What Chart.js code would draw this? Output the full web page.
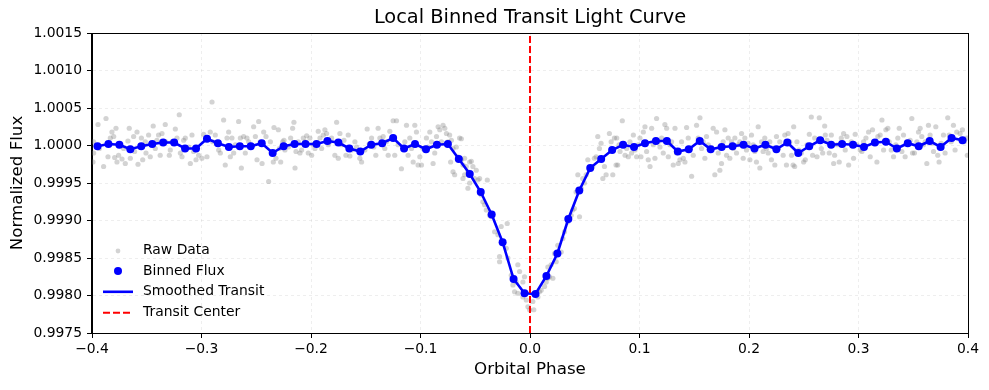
<!DOCTYPE html>
<html>
<head>
<meta charset="utf-8">
<title>Local Binned Transit Light Curve</title>
<script src="https://cdn.jsdelivr.net/npm/chart.js@4.4.1/dist/chart.umd.min.js"></script>
<style>
  html, body { margin: 0; padding: 0; background: #fff; }
  #wrap { width: 989px; height: 390px; }
</style>
</head>
<body>
<div id="wrap"><canvas id="lc" width="989" height="390"></canvas></div>
<script>
// --- data ---

// binned flux (bin centres in orbital phase)
const binPhase = [
  -0.395, -0.385, -0.375, -0.365, -0.355, -0.345, -0.335, -0.325, -0.315, -0.305,
  -0.295, -0.285, -0.275, -0.265, -0.255, -0.245, -0.235, -0.225, -0.215, -0.205,
  -0.195, -0.185, -0.175, -0.165, -0.155, -0.145, -0.135, -0.125, -0.115, -0.105,
  -0.095, -0.085, -0.075, -0.065, -0.055, -0.045, -0.035, -0.025, -0.015, -0.005,
  0.005, 0.015, 0.025, 0.035, 0.045, 0.055, 0.065, 0.075, 0.085, 0.095,
  0.105, 0.115, 0.125, 0.135, 0.145, 0.155, 0.165, 0.175, 0.185, 0.195,
  0.205, 0.215, 0.225, 0.235, 0.245, 0.255, 0.265, 0.275, 0.285, 0.295,
  0.305, 0.315, 0.325, 0.335, 0.345, 0.355, 0.365, 0.375, 0.385, 0.395
];
const binFlux = [
  0.99999, 1.00002, 1.00001, 0.99995, 0.99999, 1.00002, 1.00004, 1.00004, 0.99996, 0.99996,
  1.00009, 1.00003, 0.99998, 0.99999, 0.99999, 1.00003, 0.99990, 0.99999, 1.00002, 1.00002,
  1.00002, 1.00006, 1.00004, 0.99996, 0.99992, 1.00001, 1.00003, 1.00010, 0.99996, 1.00002,
  0.99995, 1.00001, 1.00002, 0.99982, 0.99962, 0.99938, 0.99908, 0.99871, 0.99822, 0.99803,
  0.99802, 0.99826, 0.99856, 0.99902, 0.99940, 0.99970, 0.99982, 0.99994, 1.00001, 0.99998,
  1.00003, 1.00006, 1.00006, 0.99992, 0.99995, 1.00006, 0.99995, 0.99998, 0.99999, 1.00001,
  0.99996, 1.00001, 0.99995, 1.00004, 0.99990, 0.99999, 1.00007, 1.00001, 1.00002, 1.00001,
  0.99998, 1.00004, 1.00005, 0.99996, 1.00003, 0.99999, 1.00006, 0.99998, 1.00010, 1.00007
];

// raw (unbinned) points
const rawPhase = [
  -0.3985, -0.3985, -0.3991, -0.3945, -0.3933, -0.3894, -0.3872, -0.3854, -0.3833, -0.3818,
  -0.3802, -0.3793, -0.3781, -0.3772, -0.3757, -0.3726, -0.3711, -0.3696, -0.3672, -0.3660,
  -0.3650, -0.3620, -0.3611, -0.3589, -0.3580, -0.3559, -0.3549, -0.3537, -0.3513, -0.3507,
  -0.3483, -0.3468, -0.3441, -0.3422, -0.3407, -0.3392, -0.3377, -0.3361, -0.3331, -0.3325,
  -0.3294, -0.3285, -0.3270, -0.3239, -0.3224, -0.3203, -0.3193, -0.3178, -0.3163, -0.3148,
  -0.3117, -0.3102, -0.3087, -0.3072, -0.3050, -0.3026, -0.2996, -0.2981, -0.2950, -0.2920,
  -0.2904, -0.2898, -0.2874, -0.2843, -0.2828, -0.2798, -0.2783, -0.2767, -0.2752, -0.2737,
  -0.2722, -0.2706, -0.2691, -0.2661, -0.2645, -0.2636, -0.2615, -0.2600, -0.2585, -0.2569,
  -0.2554, -0.2524, -0.2508, -0.2493, -0.2478, -0.2463, -0.2447, -0.2432, -0.2411, -0.2387,
  -0.2371,
  -0.2344, -0.2338, -0.2320, -0.2298, -0.2289, -0.2277, -0.2259, -0.2247, -0.2238, -0.2207,
  -0.2186, -0.2168, -0.2156, -0.2146, -0.2137, -0.2116, -0.2101, -0.2086, -0.2070, -0.2055,
  -0.2040, -0.2025, -0.2010, -0.1994, -0.1979, -0.1964, -0.1934, -0.1918, -0.1903, -0.1888,
  -0.1873, -0.1858, -0.1842, -0.1827, -0.1812, -0.1782, -0.1766, -0.1751, -0.1736, -0.1721,
  -0.1699, -0.1681, -0.1660, -0.1645, -0.1630, -0.1599, -0.1584, -0.1554, -0.1538, -0.1508,
  -0.1487, -0.1469, -0.1447, -0.1426, -0.1408, -0.1387, -0.1371, -0.1341, -0.1326, -0.1311,
  -0.1295, -0.1280, -0.1250, -0.1235, -0.1219, -0.1204, -0.1174, -0.1158, -0.1143, -0.1128,
  -0.1113, -0.1098, -0.1082, -0.1067, -0.1052, -0.1037, -0.1022, -0.1006, -0.0991, -0.0976,
  -0.0946, -0.0930, -0.0915, -0.0900, -0.0885, -0.0870, -0.0854, -0.0839, -0.0824, -0.0809,
  -0.0794, -0.0778, -0.0763, -0.0748,
  -0.0734, -0.0718, -0.0703, -0.0673, -0.0643, -0.0627, -0.0725, -0.0703, -0.0688, -0.0658,
  -0.0627, -0.0612, -0.0597, -0.0582, -0.0567, -0.0551, -0.0536, -0.0521, -0.0612, -0.0597,
  -0.0567, -0.0551, -0.0506, -0.0491, -0.0475, -0.0460, -0.0445, -0.0430, -0.0415, -0.0390,
  -0.0399, -0.0369, -0.0354, -0.0323, -0.0293, -0.0263, -0.0208, -0.0247, -0.0217, -0.0202,
  -0.0278, -0.0278, -0.0171, -0.0156, -0.0111, -0.0095, -0.0126, -0.0065, -0.0050, -0.0141,
  -0.0111, -0.0065, -0.0034, -0.0019, 0.0026, -0.0004, 0.0035, 0.0072, 0.0087, 0.0102,
  0.0133, 0.0148, 0.0163, 0.0178, 0.0209, 0.0163, 0.0193, 0.0224, 0.0254, 0.0285,
  0.0239, 0.0300, 0.0315, 0.0345, 0.0376, 0.0391, 0.0406, 0.0421, 0.0437, 0.0452,
  0.0467, 0.0482, 0.0497, 0.0513, 0.0528, 0.0543, 0.0573, 0.0588, 0.0604, 0.0619,
  0.0634, 0.0649, 0.0665, 0.0680, 0.0695, 0.0725, 0.0741, 0.0756, 0.0771, 0.0786,
  0.0792, 0.0801, 0.0813, 0.0822, 0.0843, 0.0868, 0.0883, 0.0898, 0.0913, 0.0928,
  0.0944, 0.0959, 0.0974, 0.0989, 0.1004, 0.1013, 0.1035, 0.1050, 0.1065, 0.1080,
  0.1096, 0.1111, 0.1126, 0.1141, 0.1156, 0.1172, 0.1187, 0.1202, 0.1217, 0.1232,
  0.1248, 0.1263, 0.1278, 0.1293, 0.1308, 0.1324, 0.1339, 0.1354, 0.1369, 0.1384,
  0.1400, 0.1415, 0.1430, 0.1445, 0.1460, 0.1476, 0.1491, 0.1521, 0.1536, 0.1552,
  0.1567, 0.1582, 0.1597, 0.1612, 0.1628, 0.1643, 0.1673, 0.1688, 0.1704, 0.1719,
  0.1734, 0.1749, 0.1764, 0.1780, 0.1795, 0.1810, 0.1825, 0.1840, 0.1856, 0.1871,
  0.1886, 0.1901, 0.1916, 0.1932, 0.1947, 0.1962, 0.1977, 0.1992, 0.2008, 0.2023,
  0.2038, 0.2053, 0.2068, 0.2084, 0.2099, 0.2114, 0.2129, 0.2144, 0.2160, 0.2175,
  0.2190, 0.2205, 0.2236, 0.2251, 0.2266, 0.2281, 0.2312, 0.2327, 0.2342, 0.2357,
  0.2372, 0.2388, 0.2403,
  0.2408, 0.2417, 0.2438, 0.2454, 0.2478, 0.2499, 0.2514, 0.2530, 0.2551, 0.2569,
  0.2581, 0.2600, 0.2621, 0.2642, 0.2660, 0.2673, 0.2691, 0.2697, 0.2712, 0.2733,
  0.2752, 0.2773, 0.2782, 0.2803, 0.2824, 0.2843, 0.2864, 0.2879, 0.2894, 0.2910,
  0.2934, 0.2955, 0.2970, 0.2985, 0.3016, 0.3031, 0.3046, 0.3068, 0.3092, 0.3107,
  0.3128, 0.3147, 0.3168, 0.3177, 0.3198, 0.3214, 0.3229, 0.3250, 0.3268, 0.3280,
  0.3299, 0.3320, 0.3341, 0.3359, 0.3372, 0.3396, 0.3411, 0.3426, 0.3441, 0.3472,
  0.3487, 0.3493, 0.3511, 0.3533, 0.3548, 0.3563, 0.3578, 0.3593, 0.3609, 0.3624,
  0.3639, 0.3654, 0.3669, 0.3685, 0.3706, 0.3724, 0.3736, 0.3755, 0.3776, 0.3791,
  0.3815, 0.3828, 0.3846, 0.3867, 0.3882, 0.3897, 0.3928, 0.3949, 0.3967, 0.3989,
  0.3994
];
const rawFlux = [
  1.00005, 0.99990, 0.99978, 1.00028, 0.99996, 0.99972, 1.00036, 0.99985, 1.00010, 1.00018,
  1.00012, 0.99984, 1.00023, 0.99978, 0.99987, 0.99982, 0.99996, 0.99976, 1.00006, 1.00023,
  0.99983, 1.00012, 0.99992, 1.00018, 0.99975, 0.99998, 1.00010, 0.99981, 1.00005, 0.99990,
  1.00014, 0.99985, 1.00026, 0.99996, 1.00007, 1.00014, 0.99987, 1.00016, 1.00028, 1.00005,
  0.99987, 0.99994, 1.00005, 1.00022, 1.00010, 1.00041, 0.99990, 0.99985, 1.00007, 1.00010,
  0.99998, 0.99976, 1.00014, 0.99992, 0.99981, 0.99987, 0.99983, 1.00015, 0.99985, 1.00018,
  1.00058, 1.00005, 1.00014, 0.99994, 0.99990, 1.00034, 0.99974, 1.00010, 1.00018, 0.99985,
  1.00010, 0.99990, 1.00001, 1.00032, 1.00010, 0.99970, 1.00012, 0.99990, 1.00010, 1.00005,
  1.00001, 1.00025, 1.00012, 0.99981, 1.00032, 1.00005, 0.99976, 1.00018, 1.00012, 0.99952,
  1.00005,
  0.99978, 1.00024, 0.99983, 1.00021, 0.99996, 0.99978, 1.00005, 1.00007, 0.99994, 0.99998,
  1.00010, 1.00023, 1.00031, 0.99970, 0.99992, 1.00005, 0.99990, 0.99994, 1.00010, 1.00005,
  1.00013, 0.99990, 1.00010, 0.99987, 1.00001, 0.99996, 1.00019, 1.00010, 0.99996, 1.00014,
  1.00021, 1.00016, 1.00001, 1.00005, 1.00010, 0.99987, 1.00031, 0.99983, 1.00016, 1.00001,
  1.00007, 0.99987, 1.00014, 0.99986, 0.99994, 1.00005, 0.99998, 0.99983, 0.99978, 0.99994,
  1.00022, 1.00002, 1.00010, 0.99998, 0.99987, 1.00023, 1.00010, 1.00012, 0.99996, 1.00005,
  0.99987, 1.00019, 1.00033, 0.99987, 1.00033, 1.00001, 0.99969, 0.99996, 1.00005, 1.00027,
  0.99987, 1.00010, 0.99996, 0.99978, 1.00027, 1.00018, 0.99974, 0.99985, 0.99974, 0.99996,
  1.00010, 0.99998, 1.00018, 1.00005, 0.99976, 0.99990, 1.00012, 1.00025, 1.00021, 1.00005,
  1.00027, 1.00023, 1.00016, 1.00005,
  1.00014, 1.00007, 0.99996, 0.99998, 1.00010, 1.00009, 0.99978, 0.99965, 0.99961, 0.99985,
  0.99981, 0.99974, 0.99983, 0.99972, 0.99965, 0.99978, 0.99979, 0.99972, 0.99956, 0.99961,
  0.99943, 0.99950, 0.99956, 0.99967, 0.99954, 0.99956, 0.99934, 0.99925, 0.99921, 0.99954,
  0.99914, 0.99907, 0.99905, 0.99885, 0.99881, 0.99892, 0.99896, 0.99872, 0.99863, 0.99850,
  0.99852, 0.99845, 0.99827, 0.99814, 0.99841, 0.99832, 0.99818, 0.99818, 0.99825, 0.99805,
  0.99803, 0.99798, 0.99794, 0.99785, 0.99792, 0.99781, 0.99781, 0.99798, 0.99805, 0.99807,
  0.99812, 0.99818, 0.99823, 0.99825, 0.99823, 0.99838, 0.99841, 0.99856, 0.99867, 0.99858,
  0.99845, 0.99876, 0.99885, 0.99898, 0.99907, 0.99914, 0.99916, 0.99938, 0.99961, 0.99905,
  0.99943, 0.99956, 0.99950, 0.99961, 0.99981, 0.99970, 0.99972, 0.99983, 0.99985, 1.00012,
  0.99996, 1.00003, 0.99956, 0.99972, 0.99961, 1.00016, 1.00005, 0.99961, 1.00010, 0.99974,
  1.00010, 0.99974, 1.00001, 0.99992, 1.00033, 0.99987, 0.99996, 0.99985, 1.00005, 0.99990,
  1.00014, 0.99994, 0.99985, 1.00001, 1.00010, 0.99985, 1.00018, 1.00025, 0.99992, 0.99981,
  0.99972, 1.00023, 1.00001, 0.99983, 1.00036, 1.00005, 0.99998, 1.00010, 0.99990, 1.00028,
  1.00023, 0.99985, 1.00001, 1.00005, 0.99974, 1.00023, 0.99990, 0.99976, 0.99981, 1.00005,
  0.99983, 0.99978, 1.00024, 1.00010, 0.99996, 0.99959, 0.99987, 1.00027, 1.00010, 1.00037,
  0.99996, 1.00005, 0.99983, 1.00012, 1.00001, 0.99996, 1.00023, 0.99961, 1.00018, 0.99990,
  0.99967, 0.99976, 1.00005, 1.00021, 0.99987, 1.00010, 0.99983, 1.00005, 0.99996, 1.00010,
  0.99990, 1.00001, 1.00005, 1.00016, 0.99983, 1.00010, 0.99994, 1.00003, 0.99981, 1.00014,
  1.00001, 0.99992, 0.99978, 1.00025, 0.99970, 1.00005, 0.99992, 1.00010, 0.99996, 0.99990,
  1.00005, 0.99981, 0.99974, 1.00012, 0.99996, 1.00005, 0.99987, 1.00014, 0.99974, 1.00016,
  1.00005, 0.99987, 0.99974,
  1.00025, 0.99972, 1.00005, 0.99994, 0.99990, 0.99978, 0.99981, 1.00001, 1.00015, 1.00038,
  0.99987, 1.00010, 0.99985, 1.00037, 0.99996, 0.99990, 1.00026, 1.00014, 1.00007, 0.99990,
  1.00014, 0.99976, 0.99987, 1.00001, 0.99978, 1.00010, 1.00016, 0.99994, 1.00012, 0.99974,
  1.00005, 0.99983, 1.00015, 1.00001, 0.99994, 0.99992, 1.00005, 1.00010, 1.00018, 0.99985,
  1.00021, 1.00005, 0.99978, 1.00012, 1.00014, 1.00034, 0.99994, 1.00021, 1.00023, 1.00005,
  0.99994, 0.99985, 1.00001, 1.00010, 1.00023, 0.99992, 1.00014, 0.99985, 1.00005, 1.00007,
  1.00036, 0.99990, 0.99990, 1.00005, 1.00018, 1.00023, 1.00012, 1.00001, 1.00005, 0.99976,
  1.00027, 1.00014, 1.00003, 0.99992, 1.00025, 0.99987, 0.99978, 1.00003, 1.00014, 0.99990,
  1.00037, 1.00014, 1.00005, 1.00027, 0.99994, 1.00018, 1.00016, 1.00021, 1.00005, 1.00010,
  0.99987
];

// axis ticks
const xTicks = [-0.4, -0.3, -0.2, -0.1, 0.0, 0.1, 0.2, 0.3, 0.4];
const yTicks = [0.9975, 0.9980, 0.9985, 0.9990, 0.9995, 1.0000, 1.0005, 1.0010, 1.0015];
const transitCenter = 0.0;

// colours
const BLUE = '#0000ff';
const RED = '#ff0000';
const RAW_GREY = 'rgba(128, 128, 128, 0.35)';
const GRID = 'rgba(176, 176, 176, 0.3)';
const FONT = "'DejaVu Sans', sans-serif";

const rawPoints = rawPhase.map((p, i) => ({ x: p, y: rawFlux[i] }));
const binPoints = binPhase.map((p, i) => ({ x: p, y: binFlux[i] }));
const centerLine = [
  { x: transitCenter, y: yTicks[0] },
  { x: transitCenter, y: yTicks[yTicks.length - 1] }
];

// frame, title, axis labels and legend (matplotlib-like)
const decor = {
  id: 'decor',
  afterDraw(chart) {
    const { ctx, chartArea: a } = chart;
    ctx.save();

    // full box around the axes
    ctx.strokeStyle = '#000';
    ctx.lineWidth = 1;
    ctx.strokeRect(Math.round(a.left) - 0.5, Math.round(a.top) + 0.5,
                   Math.round(a.right - a.left) + 1, Math.round(a.bottom - a.top));

    ctx.fillStyle = '#000';
    ctx.textAlign = 'center';
    ctx.textBaseline = 'middle';

    ctx.font = '19.4px ' + FONT;
    ctx.fillText('Local Binned Transit Light Curve', (a.left + a.right) / 2, 18);

    ctx.font = '16.7px ' + FONT;
    ctx.fillText('Orbital Phase', (a.left + a.right) / 2, 370);
    ctx.save();
    ctx.translate(18, (a.top + a.bottom) / 2);
    ctx.rotate(-Math.PI / 2);
    ctx.fillText('Normalized Flux', 0, 0);
    ctx.restore();

    // legend, lower left, no frame
    const items = [
      { label: 'Raw Data', kind: 'raw' },
      { label: 'Binned Flux', kind: 'bin' },
      { label: 'Smoothed Transit', kind: 'line' },
      { label: 'Transit Center', kind: 'dash' }
    ];
    const lx0 = a.left + 11, lx1 = a.left + 41, tx = a.left + 51;
    ctx.font = '13.9px ' + FONT;
    ctx.textAlign = 'left';
    items.forEach((it, i) => {
      const y = a.top + 217 + i * 20.9;
      if (it.kind === 'raw') {
        ctx.fillStyle = RAW_GREY;
        ctx.beginPath(); ctx.arc((lx0 + lx1) / 2, y + 1, 2.4, 0, Math.PI * 2); ctx.fill();
      } else if (it.kind === 'bin') {
        ctx.fillStyle = BLUE;
        ctx.beginPath(); ctx.arc((lx0 + lx1) / 2, y, 4, 0, Math.PI * 2); ctx.fill();
      } else {
        ctx.strokeStyle = it.kind === 'line' ? BLUE : RED;
        ctx.lineWidth = it.kind === 'line' ? 2.6 : 2;
        ctx.setLineDash(it.kind === 'dash' ? [7, 3] : []);
        ctx.beginPath(); ctx.moveTo(lx0, y); ctx.lineTo(lx1, y); ctx.stroke();
        ctx.setLineDash([]);
      }
      ctx.fillStyle = '#000';
      ctx.fillText(it.label, tx, y);
    });

    ctx.restore();
  }
};

new Chart(document.getElementById('lc'), {
  type: 'scatter',
  data: {
    datasets: [
      {
        label: 'Transit Center',
        data: centerLine,
        showLine: true,
        borderColor: RED,
        borderWidth: 2,
        borderDash: [7, 3],
        pointRadius: 0,
        order: 0
      },
      {
        label: 'Binned Flux',
        data: binPoints,
        backgroundColor: BLUE,
        borderColor: BLUE,
        borderWidth: 0,
        pointRadius: 4,
        order: 1
      },
      {
        label: 'Smoothed Transit',
        data: binPoints,
        showLine: true,
        borderColor: BLUE,
        borderWidth: 2.6,
        pointRadius: 0,
        tension: 0,
        order: 2
      },
      {
        label: 'Raw Data',
        data: rawPoints,
        backgroundColor: RAW_GREY,
        borderWidth: 0,
        pointRadius: 2.6,
        order: 3
      }
    ]
  },
  options: {
    responsive: false,
    animation: false,
    devicePixelRatio: 1,
    layout: { padding: { top: 33, right: 21, left: 0, bottom: 0 } },
    plugins: {
      legend: { display: false },
      title: { display: false },
      tooltip: { enabled: false }
    },
    scales: {
      x: {
        type: 'linear',
        min: -0.4,
        max: 0.4,
        afterBuildTicks: s => { s.ticks = xTicks.map(v => ({ value: v })); },
        afterFit: s => { s.height = 57; },
        ticks: {
          autoSkip: false,
          maxRotation: 0,
          padding: 3,
          color: '#000',
          font: { family: FONT, size: 13.9 },
          callback: v => v.toFixed(1).replace('-', '\u2212')
        },
        grid: { color: GRID, lineWidth: 0.7, tickLength: 5, tickColor: '#000', tickWidth: 1 },
        border: { display: true, color: '#000', width: 1, dash: [3, 3] }
      },
      y: {
        type: 'linear',
        min: 0.9975,
        max: 1.0015,
        afterBuildTicks: s => { s.ticks = yTicks.map(v => ({ value: v })); },
        afterFit: s => { s.width = 92; },
        ticks: {
          autoSkip: false,
          padding: 5,
          color: '#000',
          font: { family: FONT, size: 13.9 },
          callback: v => v.toFixed(4)
        },
        grid: { color: GRID, lineWidth: 0.7, tickLength: 5, tickColor: '#000', tickWidth: 1 },
        border: { display: true, color: '#000', width: 1, dash: [3, 3] }
      }
    }
  },
  plugins: [decor]
});
</script>
</body>
</html>
